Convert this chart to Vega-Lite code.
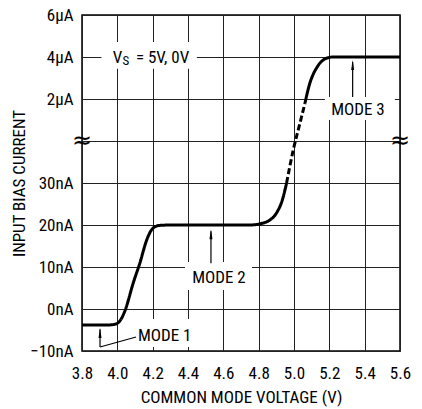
{
  "$schema": "https://vega.github.io/schema/vega-lite/v6.json",
  "width": 318,
  "height": 336,
  "autosize": {"type": "none"},
  "padding": {"left": 82, "top": 15, "right": 22, "bottom": 58},
  "background": "white",
  "config": {
    "font": "Roboto Condensed, Liberation Sans",
    "view": {"stroke": "black", "strokeWidth": 1.5},
    "axis": {
      "grid": true,
      "gridColor": "#222",
      "gridWidth": 1,
      "gridOpacity": 1,
      "domain": false,
      "ticks": false,
      "labelBound": false,
      "labelFlush": false,
      "labelFont": "Roboto Condensed, Liberation Sans",
      "labelFontSize": 17,
      "labelColor": "black",
      "titleFont": "Roboto Condensed, Liberation Sans",
      "titleFontSize": 17,
      "titleFontWeight": "normal",
      "titleColor": "black"
    },
    "text": {"font": "Roboto Condensed, Liberation Sans", "color": "black"}
  },
  "datasets": {
    "curve": [
      {"x": 3.8, "y": 0.62, "seg": "a"},
      {"x": 3.95, "y": 0.62, "seg": "a"},
      {"x": 3.99, "y": 0.64, "seg": "a"},
      {"x": 4.02, "y": 0.75, "seg": "a"},
      {"x": 4.045, "y": 0.98, "seg": "a"},
      {"x": 4.09, "y": 1.62, "seg": "a"},
      {"x": 4.128, "y": 2.1, "seg": "a"},
      {"x": 4.166, "y": 2.64, "seg": "a"},
      {"x": 4.19, "y": 2.86, "seg": "a"},
      {"x": 4.21, "y": 2.95, "seg": "a"},
      {"x": 4.24, "y": 2.99, "seg": "a"},
      {"x": 4.3, "y": 3.0, "seg": "a"},
      {"x": 4.75, "y": 3.0, "seg": "a"},
      {"x": 4.82, "y": 3.04, "seg": "a"},
      {"x": 4.864, "y": 3.12, "seg": "a"},
      {"x": 4.89, "y": 3.22, "seg": "a"},
      {"x": 4.911, "y": 3.36, "seg": "a"},
      {"x": 4.928, "y": 3.52, "seg": "a"},
      {"x": 4.939, "y": 3.67, "seg": "a"},
      {"x": 4.958, "y": 4.0, "seg": "a"},
      {"x": 4.958, "y": 4.0, "seg": "b"},
      {"x": 4.996, "y": 4.79, "seg": "b"},
      {"x": 5.034, "y": 5.43, "seg": "b"},
      {"x": 5.062, "y": 5.9, "seg": "b"},
      {"x": 5.062, "y": 5.9, "seg": "c"},
      {"x": 5.09, "y": 6.38, "seg": "c"},
      {"x": 5.11, "y": 6.6, "seg": "c"},
      {"x": 5.128, "y": 6.74, "seg": "c"},
      {"x": 5.15, "y": 6.87, "seg": "c"},
      {"x": 5.166, "y": 6.93, "seg": "c"},
      {"x": 5.19, "y": 6.98, "seg": "c"},
      {"x": 5.222, "y": 7.0, "seg": "c"},
      {"x": 5.6, "y": 7.0, "seg": "c"}
    ],
    "boxes": [
      {"x": 3.91, "xe": 4.45, "y": 6.72, "ye": 7.36},
      {"x": 4.111, "xe": 4.434, "y": 0.095, "ye": 0.76},
      {"x": 4.383, "xe": 4.762, "y": 1.45, "ye": 2.12},
      {"x": 5.175, "xe": 5.571, "y": 5.5, "ye": 6.05}
    ],
    "arrows": [
      {"x": 3.902, "y": 0.52, "xe": 3.902, "ye": 0.095},
      {"x": 3.902, "y": 0.095, "xe": 4.106, "ye": 0.333},
      {"x": 4.53, "y": 2.85, "xe": 4.53, "ye": 2.09},
      {"x": 5.332, "y": 6.88, "xe": 5.332, "ye": 6.05}
    ],
    "heads": [
      {"x": 3.902, "y": 0.55},
      {"x": 4.53, "y": 2.9},
      {"x": 5.332, "y": 6.93}
    ],
    "labels": [
      {"x": 4.268, "y": 0.357, "t": "MODE 1"},
      {"x": 4.575, "y": 1.74, "t": "MODE 2"},
      {"x": 5.362, "y": 5.74, "t": "MODE 3"},
      {"x": 4.001, "y": 6.98, "t": "V"},
      {"x": 4.256, "y": 6.98, "t": "= 5V, 0V"}
    ],
    "subs": [
      {"x": 4.048, "y": 6.9, "t": "S"}
    ],
    "breaks": [
      {"x": 3.8, "y": 5, "t": "≈"},
      {"x": 5.6, "y": 5, "t": "≈"}
    ]
  },
  "encoding": {
    "x": {"field": "x", "type": "quantitative", "scale": {"domain": [3.8, 5.6], "nice": false, "zero": false},
      "axis": {"values": [3.8, 4.0, 4.2, 4.4, 4.6, 4.8, 5.0, 5.2, 5.4, 5.6], "format": ".1f", "title": "COMMON MODE VOLTAGE (V)", "labelOverlap": false, "labelSeparation": 0, "labelFlush": false, "labelBaseline": "alphabetic", "labelPadding": 27, "titleY": 51, "titleBaseline": "alphabetic"}},
    "y": {"field": "y", "type": "quantitative", "scale": {"domain": [0, 8], "nice": false, "zero": false},
      "axis": {"values": [0, 1, 2, 3, 4, 5, 6, 7, 8], "labelExpr": "['−10nA','0nA','10nA','20nA','30nA','','2µA','4µA','6µA'][datum.value]", "labelOverlap": false, "labelFlush": false, "labelPadding": 9, "title": "INPUT BIAS CURRENT", "titleX": -63, "titleBaseline": "middle"}}
  },
  "layer": [
    {
      "data": {"name": "boxes"},
      "mark": {"type": "rect", "color": "white", "stroke": null},
      "encoding": {
        "x2": {"field": "xe"},
        "y2": {"field": "ye"}
      }
    },
    {
      "data": {"name": "curve"},
      "mark": {"type": "line", "color": "black", "strokeWidth": 3, "interpolate": "monotone"},
      "encoding": {
        "detail": {"field": "seg"},
        "strokeDash": {"field": "seg", "type": "nominal", "scale": {"domain": ["a", "b", "c"], "range": [[1, 0], [6, 3], [1, 0]]}, "legend": null}
      }
    },
    {
      "data": {"name": "arrows"},
      "mark": {"type": "rule", "color": "black", "strokeWidth": 1.2},
      "encoding": {
        "x2": {"field": "xe"},
        "y2": {"field": "ye"}
      }
    },
    {
      "data": {"name": "heads"},
      "mark": {"type": "point", "shape": "M0,0L0.3,2L-0.3,2Z", "filled": true, "color": "black", "opacity": 1, "size": 100},
      "encoding": {}
    },
    {
      "data": {"name": "labels"},
      "mark": {"type": "text", "fontSize": 17, "align": "center", "baseline": "middle"},
      "encoding": {
        "text": {"field": "t"}
      }
    },
    {
      "data": {"name": "subs"},
      "mark": {"type": "text", "fontSize": 13, "align": "center", "baseline": "middle"},
      "encoding": {
        "text": {"field": "t"}
      }
    },
    {
      "data": {"name": "breaks"},
      "mark": {"type": "text", "fontSize": 24, "align": "center", "baseline": "middle", "font": "DejaVu Sans"},
      "encoding": {
        "text": {"field": "t"}
      }
    }
  ]
}
